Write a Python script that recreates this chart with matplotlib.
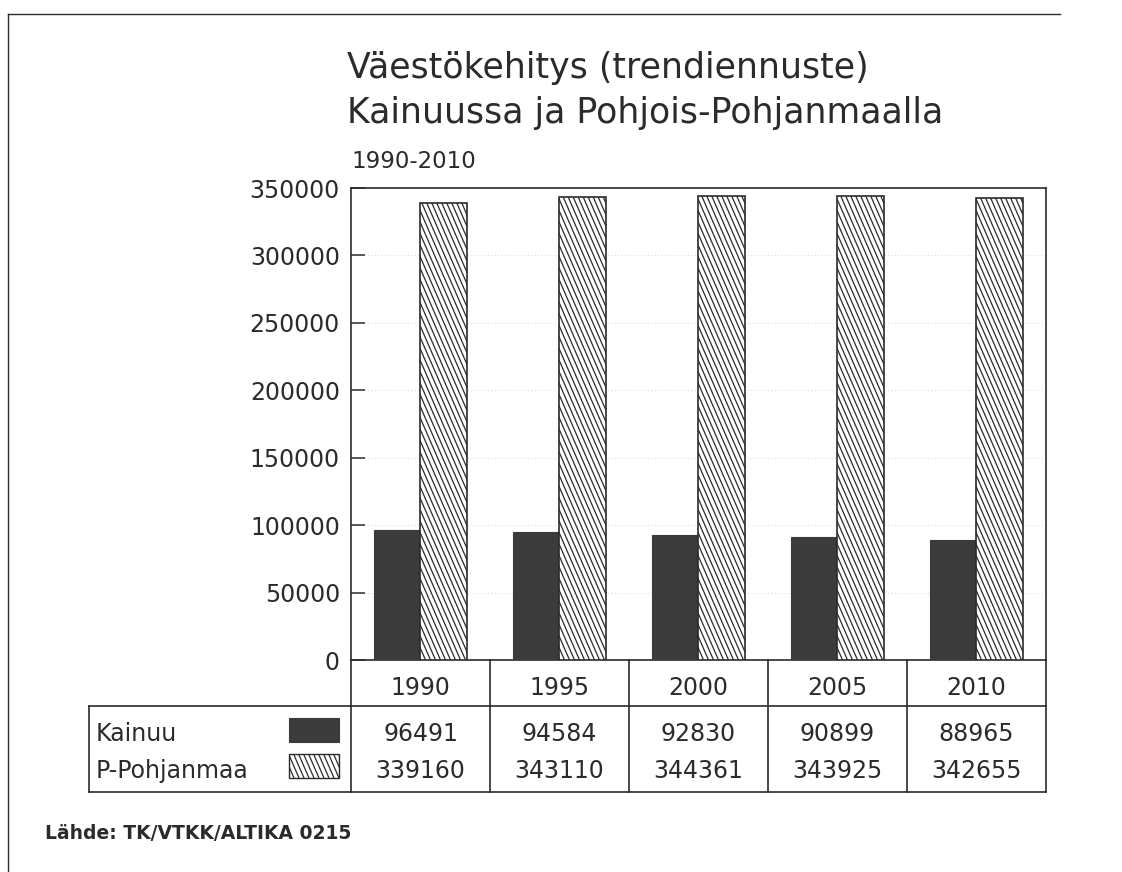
import numpy as np
import matplotlib
matplotlib.use("Agg")
import matplotlib.pyplot as plt
import matplotlib.transforms as mtransforms
from matplotlib.collections import LineCollection
from matplotlib.patches import Rectangle

# data
years = ["1990", "1995", "2000", "2005", "2010"]
kainuu = [96491, 94584, 92830, 90899, 88965]
ppohjanmaa = [339160, 343110, 344361, 343925, 342655]
series_names = ["Kainuu", "P-Pohjanmaa"]
yticks = [0, 50000, 100000, 150000, 200000, 250000, 300000, 350000]

title1 = "Väestökehitys (trendiennuste)"
title2 = "Kainuussa ja Pohjois-Pohjanmaalla"
subtitle = "1990-2010"
source = "Lähde: TK/VTKK/ALTIKA 0215"

W, H = 1122, 872
dark = "#3b3b3b"
ink = "#2b2b2b"
fs = 17
plt.rcParams['font.family'] = ['DejaVu Sans']

fig = plt.figure(figsize=(W / 100, H / 100), dpi=100)
fig.patch.set_facecolor("white")

# overlay in pixel coords for frame, table and text
ov = fig.add_axes([0, 0, 1, 1], zorder=0)
ov.set_xlim(0, W)
ov.set_ylim(H, 0)
ov.axis("off")

ax = fig.add_axes([351 / W, 1 - 660 / H, 695 / W, 472 / H], zorder=1)
ax.patch.set_alpha(0)
x = np.arange(len(years))
bw = 0.338
ax.bar(x - bw / 2, kainuu, bw, color=dark, edgecolor=dark, linewidth=0.8, zorder=3)
hb = ax.bar(x + bw / 2, ppohjanmaa, bw, color="white", edgecolor=ink, linewidth=1.2, zorder=3)
ax.set_xlim(-0.5, len(years) - 0.5)
ax.set_ylim(0, 350000)
ax.set_yticks(yticks)
ax.set_yticklabels([str(v) for v in yticks], fontsize=fs, color=ink)
ax.tick_params(axis="y", direction="in", length=10, width=1.1, pad=8, color=ink)
ax.set_xticks([])
for s in ax.spines.values():
    s.set_color(ink)
    s.set_linewidth(1.2)
ax.yaxis.grid(True, linestyle=(0, (1, 3)), color="#c8c8c8", linewidth=0.6, zorder=0)


def steep_hatch(target, patch, spacing=5.0, slope=2.3, lw=0.9):
    bb = patch.get_extents()
    x0, y0, x1, y1 = bb.x0, bb.y0, bb.x1, bb.y1
    h = y1 - y0
    xs = np.arange(x0 - h / slope - spacing, x1 + spacing, spacing)
    segs = [[(xx, y1), (xx + h / slope, y0)] for xx in xs]
    lc = LineCollection(segs, colors=ink, linewidths=lw,
                        transform=mtransforms.IdentityTransform(), zorder=4)
    target.add_collection(lc, autolim=False)
    lc.set_clip_path(patch)


for p in hb.patches:
    steep_hatch(ax, p)

# outer frame
ov.plot([8, 1060], [14, 14], color=ink, lw=1.0)
ov.plot([8, 8], [14, H], color=ink, lw=1.0)

# titles
ov.text(347, 78, title1, fontsize=25, color=ink, va="baseline", ha="left")
ov.text(347, 123, title2, fontsize=25, color=ink, va="baseline", ha="left")
ov.text(351, 168, subtitle, fontsize=16.5, color=ink, va="baseline", ha="left")

# table below the axis
tr = mtransforms.blended_transform_factory(ax.transData, ov.transData)
right_px = 351 + 695
lc_kw = dict(color=ink, lw=1.2, clip_on=False)
for edge in np.arange(len(years) + 1) - 0.5:
    ov.plot([edge, edge], [660, 792], transform=tr, **lc_kw)
ov.plot([89, right_px], [706, 706], **lc_kw)
ov.plot([89, right_px], [792, 792], **lc_kw)
ov.plot([89, 89], [706, 792], **lc_kw)

for i, yr in enumerate(years):
    ov.text(i, 688, yr, transform=tr, ha="center", va="center", fontsize=fs, color=ink)
    ov.text(i, 734, str(kainuu[i]), transform=tr, ha="center", va="center", fontsize=fs, color=ink)
    ov.text(i, 771, str(ppohjanmaa[i]), transform=tr, ha="center", va="center", fontsize=fs, color=ink)

ov.text(96, 734, series_names[0], ha="left", va="center", fontsize=fs, color=ink)
ov.text(96, 771, series_names[1], ha="left", va="center", fontsize=fs, color=ink)
ov.add_patch(Rectangle((289, 718), 50, 24, facecolor=dark, edgecolor=dark, lw=0.8))
sw = Rectangle((289, 754), 50, 24, facecolor="white", edgecolor=ink, lw=1.0)
ov.add_patch(sw)
steep_hatch(ov, sw)

ov.text(45, 833, source, fontsize=13.5, fontweight="bold", color=ink, ha="left", va="center")

fig.savefig("out.png", dpi=100)
